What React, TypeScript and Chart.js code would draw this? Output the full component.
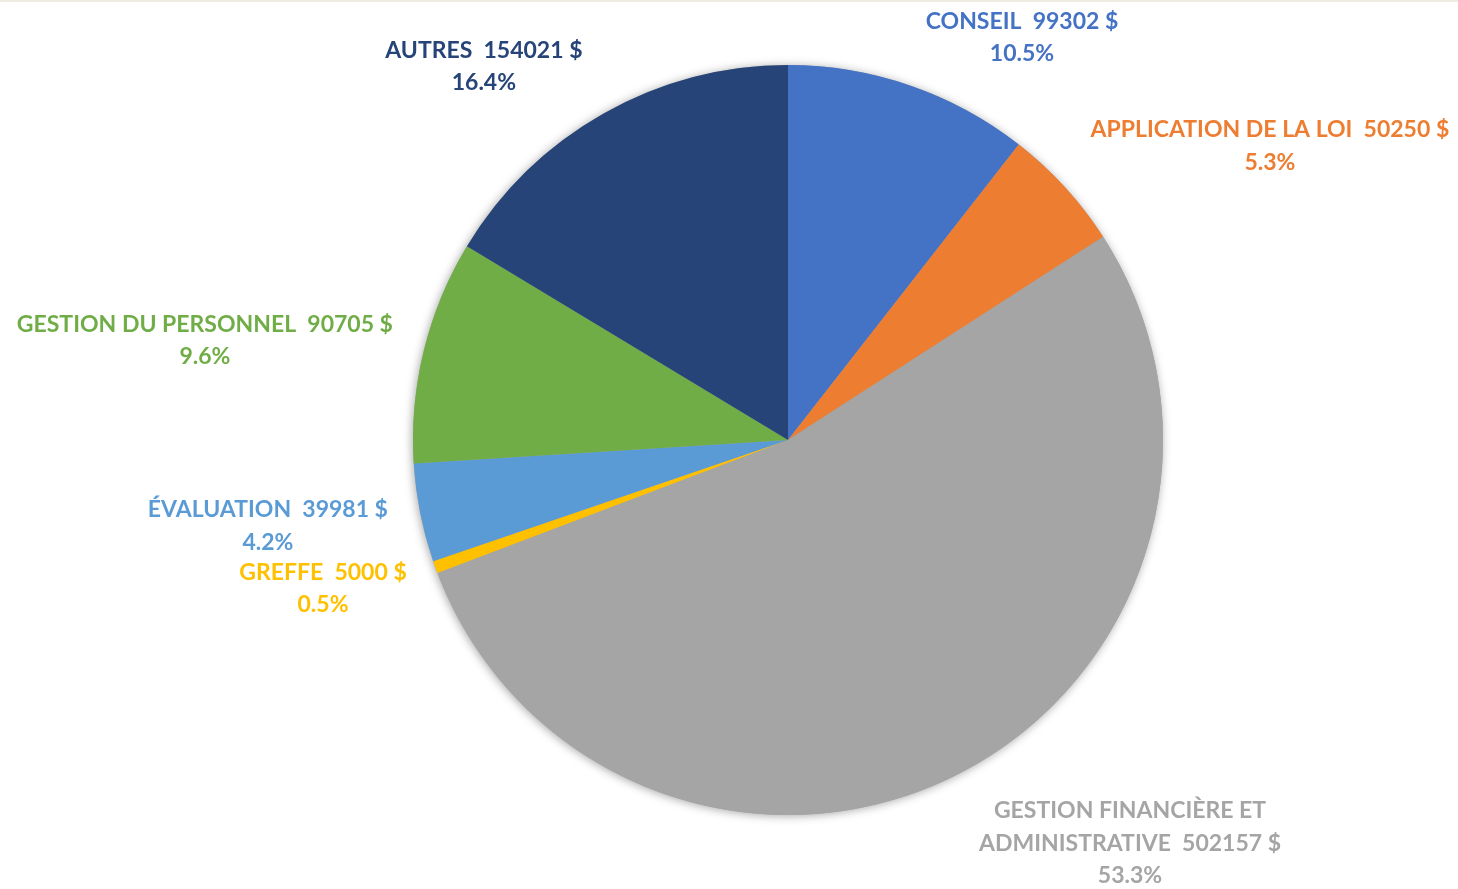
import React, { useEffect, useRef } from "react";
import { Chart, registerables } from "chart.js";

Chart.register(...registerables);

const categories = [
  "CONSEIL",
  "APPLICATION DE LA LOI",
  "GESTION FINANCIÈRE ET ADMINISTRATIVE",
  "GREFFE",
  "ÉVALUATION",
  "GESTION DU PERSONNEL",
  "AUTRES",
];
const values = [99302, 50250, 502157, 5000, 39981, 90705, 154021];
const colors = ["#4472C4", "#ED7D31", "#A5A5A5", "#FFC000", "#5B9BD5", "#70AD47", "#264478"];

// label text lines (first line text split for wrapping)
const labelLines: string[][] = [
  ["CONSEIL  99302 $"],
  ["APPLICATION DE LA LOI  50250 $"],
  ["GESTION FINANCIÈRE ET", "ADMINISTRATIVE  502157 $"],
  ["GREFFE  5000 $"],
  ["ÉVALUATION  39981 $"],
  ["GESTION DU PERSONNEL  90705 $"],
  ["AUTRES  154021 $"],
];
// label block centers relative to pie center, in units of radius
const labelOffsets: [number, number][] = [
  [0.624, -1.073],
  [1.285, -0.784],
  [0.912, 1.075],
  [-1.24, 0.396],
  [-1.387, 0.23],
  [-1.555, -0.265],
  [-0.811, -0.996],
];

const FONT = "bold 23px Lato, 'Open Sans', sans-serif";
const LINE_H = 32.5;

const decorPlugin = {
  id: "decor",
  beforeDraw(chart: any) {
    const ctx = chart.ctx;
    ctx.save();
    ctx.fillStyle = "#ffffff";
    ctx.fillRect(0, 0, chart.width, chart.height);
    ctx.fillStyle = "#EEECE1";
    ctx.fillRect(0, 0, chart.width, 2);
    ctx.restore();
  },
  beforeDatasetsDraw(chart: any) {
    const meta = chart.getDatasetMeta(0);
    const arc = meta.data[0];
    if (!arc) return;
    const { x, y, outerRadius } = arc.getProps(["x", "y", "outerRadius"], true);
    const ctx = chart.ctx;
    ctx.save();
    ctx.shadowColor = "rgba(0,0,0,0.35)";
    ctx.shadowBlur = 10;
    ctx.shadowOffsetX = -1;
    ctx.shadowOffsetY = 1;
    ctx.fillStyle = "#A5A5A5";
    ctx.beginPath();
    ctx.arc(x, y, outerRadius, 0, Math.PI * 2);
    ctx.fill();
    ctx.restore();
  },
  afterDatasetsDraw(chart: any) {
    const meta = chart.getDatasetMeta(0);
    const arc0 = meta.data[0];
    if (!arc0) return;
    const { x, y, outerRadius } = arc0.getProps(["x", "y", "outerRadius"], true);
    const data = chart.data.datasets[0].data as number[];
    const total = data.reduce((a, b) => a + b, 0);
    const ctx = chart.ctx;
    ctx.save();
    ctx.font = FONT;
    ctx.textAlign = "center";
    ctx.textBaseline = "middle";
    data.forEach((v, i) => {
      const lines = [...labelLines[i], ((v / total) * 100).toFixed(1) + "%"];
      const cx = x + labelOffsets[i][0] * outerRadius;
      const cy = y + labelOffsets[i][1] * outerRadius;
      const startY = cy - ((lines.length - 1) * LINE_H) / 2;
      ctx.fillStyle = colors[i];
      lines.forEach((t, j) => ctx.fillText(t, cx, startY + j * LINE_H));
    });
    ctx.restore();
  },
};

export default function App() {
  const ref = useRef<HTMLCanvasElement | null>(null);
  useEffect(() => {
    if (!ref.current) return;
    const chart = new Chart(ref.current, {
      type: "pie",
      data: {
        labels: categories,
        datasets: [
          {
            data: values,
            backgroundColor: colors,
            borderWidth: 0,
          },
        ],
      },
      options: {
        animation: false,
        responsive: true,
        maintainAspectRatio: false,
        layout: { padding: { top: 65, bottom: 74, left: 413, right: 295 } },
        plugins: {
          legend: { display: false },
          tooltip: { enabled: false },
        },
      },
      plugins: [decorPlugin],
    });
    return () => chart.destroy();
  }, []);
  return (
    <div style={{ position: "fixed", left: 0, top: 0, width: 1458, height: 889 }}>
      <canvas ref={ref} />
    </div>
  );
}
